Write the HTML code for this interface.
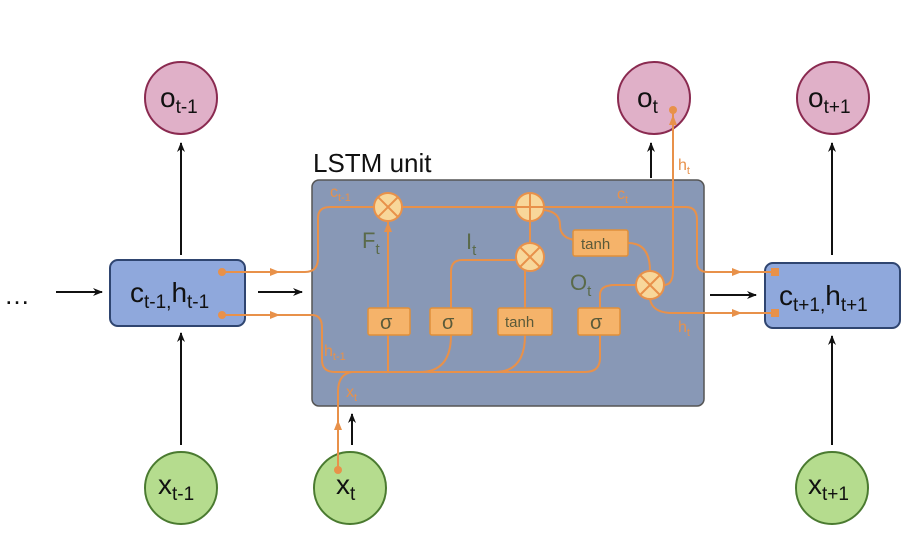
<!DOCTYPE html>
<html><head><meta charset="utf-8"><style>
html,body{margin:0;padding:0;background:#fff;}
svg{display:block;font-family:"Liberation Sans","DejaVu Sans",sans-serif;}
</style></head><body>
<svg width="910" height="558" viewBox="0 0 910 558" xmlns="http://www.w3.org/2000/svg">
<defs>
<marker id="ab" markerWidth="10" markerHeight="8" refX="9" refY="4" orient="auto" markerUnits="userSpaceOnUse"><path d="M0,0 L10,4 L0,8 L3,4z" fill="#111"/></marker>
</defs>
<g stroke="#111" stroke-width="2" fill="none" marker-end="url(#ab)">
<line x1="181" y1="255" x2="181" y2="143"/>
<line x1="181" y1="445" x2="181" y2="333"/>
<line x1="56" y1="292" x2="102" y2="292"/>
<line x1="258" y1="292" x2="302" y2="292"/>
<line x1="710" y1="295" x2="756" y2="295"/>
<line x1="832" y1="255" x2="832" y2="143"/>
<line x1="832" y1="445" x2="832" y2="336"/>
<line x1="651" y1="178" x2="651" y2="143"/>
<line x1="352" y1="445" x2="352" y2="414"/>
</g>
<text x="4" y="304" font-size="26" fill="#111">…</text>
<g fill="#e0b0c8" stroke="#8a2a50" stroke-width="2">
<circle cx="181" cy="98" r="36"/><circle cx="654" cy="98" r="36"/><circle cx="833" cy="98" r="36"/>
</g>
<g fill="#b5dc8e" stroke="#4a7a30" stroke-width="2">
<circle cx="181" cy="488" r="36"/><circle cx="350" cy="488" r="36"/><circle cx="832" cy="488" r="36"/>
</g>
<g font-size="28" fill="#111">
<text x="160" y="107">o<tspan font-size="19" dy="6">t-1</tspan></text>
<text x="637" y="107">o<tspan font-size="19" dy="6">t</tspan></text>
<text x="808" y="107">o<tspan font-size="19" dy="6">t+1</tspan></text>
<text x="158" y="494">x<tspan font-size="19" dy="6">t-1</tspan></text>
<text x="336" y="494">x<tspan font-size="19" dy="6">t</tspan></text>
<text x="808" y="494">x<tspan font-size="19" dy="6">t+1</tspan></text>
</g>
<rect x="110" y="260" width="135" height="66" rx="8" fill="#8fa8dc" stroke="#2f4570" stroke-width="2"/>
<rect x="765" y="263" width="135" height="65" rx="8" fill="#8fa8dc" stroke="#2f4570" stroke-width="2"/>
<text x="130" y="302" font-size="28" fill="#111">c<tspan font-size="19" dy="6">t-1,</tspan><tspan dy="-6">h</tspan><tspan font-size="19" dy="6">t-1</tspan></text>
<text x="779" y="305" font-size="28" fill="#111">c<tspan font-size="19" dy="6">t+1,</tspan><tspan dy="-6">h</tspan><tspan font-size="19" dy="6">t+1</tspan></text>
<text x="313" y="172" font-size="26" fill="#111">LSTM unit</text>
<rect x="312" y="180" width="392" height="226" rx="7" fill="#8898b6" stroke="#555" stroke-width="1.5"/>
<g stroke="#e8914a" stroke-width="2" fill="none">
<path d="M222,272 H305 Q318,272 318,258 V218 Q318,207 330,207 H686 Q697,207 697,220 V262 Q697,272 708,272 H775"/>
<path d="M222,315 H312 Q322,315 322,328 V360 Q322,372 335,372 H585 Q600,372 600,358 V335"/>
<path d="M388,372 V335 M388,308 V222"/>
<path d="M451,335 Q451,372 420,372 M451,308 V272 Q451,260 462,260 H515"/>
<path d="M525,335 Q525,372 495,372 M525,308 V271 M530,243 V221"/>
<path d="M544,210 Q560,212 560,225 Q560,238 575,240"/>
<path d="M628,243 Q650,243 650,271"/>
<path d="M600,308 V295 Q600,285 615,285 H636"/>
<path d="M664,285 Q673,285 673,270 V110"/>
<path d="M650,299 Q652,312 670,313 H775"/>
<path d="M338,470 V392 Q338,374 352,372"/>
</g>
<g fill="#e8914a">
<circle cx="222" cy="272" r="4"/><circle cx="222" cy="315" r="4"/>
<circle cx="338" cy="470" r="4"/><circle cx="673" cy="110" r="4"/>
<rect x="771" y="268" width="8" height="8"/><rect x="771" y="309" width="8" height="8"/>
<path d="M270,268 L280,272 L270,276z"/><path d="M270,311 L280,315 L270,319z"/>
<path d="M732,268 L742,272 L732,276z"/><path d="M732,309 L742,313 L732,317z"/>
<path d="M384,232 L388,222 L392,232z"/><path d="M669,125 L673,115 L677,125z"/>
<path d="M334,430 L338,420 L342,430z"/>
</g>
<g fill="#f5b36a" stroke="#e0903a" stroke-width="1.5">
<rect x="368" y="308" width="42" height="27" rx="2"/>
<rect x="430" y="308" width="42" height="27" rx="2"/>
<rect x="498" y="308" width="54" height="27" rx="2"/>
<rect x="578" y="308" width="42" height="27" rx="2"/>
<rect x="573" y="230" width="55" height="26" rx="2"/>
</g>
<g fill="#5a5a3a" font-size="20">
<text x="380" y="329">σ</text><text x="442" y="329">σ</text><text x="590" y="329">σ</text>
</g>
<g fill="#5a5a3a" font-size="15">
<text x="505" y="327">tanh</text><text x="581" y="249">tanh</text>
</g>
<g fill="#f8d79a" stroke="#e8914a" stroke-width="2">
<circle cx="388" cy="207" r="14"/><circle cx="530" cy="207" r="14"/><circle cx="530" cy="257" r="14"/><circle cx="650" cy="285" r="14"/>
</g>
<g stroke="#e8914a" stroke-width="2">
<path d="M378,197 L398,217 M398,197 L378,217"/>
<path d="M530,193 V221 M516,207 H544"/>
<path d="M520,247 L540,267 M540,247 L520,267"/>
<path d="M640,275 L660,295 M660,275 L640,295"/>
</g>
<g fill="#5a6a4a" font-size="22">
<text x="362" y="248">F<tspan font-size="15" dy="6">t</tspan></text>
<text x="466" y="249">I<tspan font-size="15" dy="6">t</tspan></text>
<text x="570" y="290">O<tspan font-size="15" dy="6">t</tspan></text>
</g>
<g fill="#e8914a" font-size="16">
<text x="330" y="197">c<tspan font-size="11" dy="4">t-1</tspan></text>
<text x="617" y="199">c<tspan font-size="11" dy="4">t</tspan></text>
<text x="324" y="356">h<tspan font-size="11" dy="4">t-1</tspan></text>
<text x="346" y="397">x<tspan font-size="11" dy="4">t</tspan></text>
<text x="678" y="170">h<tspan font-size="11" dy="4">t</tspan></text>
<text x="678" y="332">h<tspan font-size="11" dy="4">t</tspan></text>
</g>
</svg>
</body></html>
